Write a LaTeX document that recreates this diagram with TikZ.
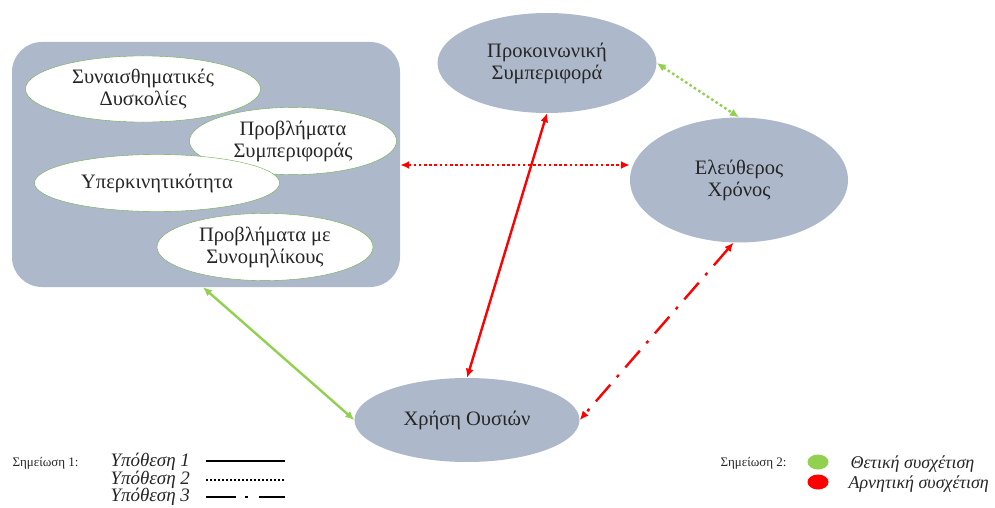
\documentclass[tikz,border=0pt]{standalone}
\usepackage{fontspec}
\setmainfont{Liberation Serif}
\usetikzlibrary{positioning, arrows.meta, shapes.geometric}
\definecolor{boxgray}{HTML}{ADB9CA}
\definecolor{posgreen}{HTML}{92D050}
\definecolor{leafgreen}{HTML}{70AD47}
\definecolor{negred}{HTML}{FF0000}
\tikzset{
  every node/.style={font=\fontsize{20.5}{22}\selectfont, text=black!85}, % default text
  factor/.style={ellipse, fill=boxgray, align=center}, % the big grey ellipses
  symptom/.style={ellipse, draw=leafgreen, fill=white, thin, align=center}, % small ellipses inside the box
  link/.style={<->, >={Latex[length=9pt,width=8pt]}, line width=2.4pt}, % every relation is two-way
  positive/.style={link, draw=posgreen, color=posgreen},
  negative/.style={link, draw=negred, color=negred},
  hyp one/.style={},                                   % solid
  hyp two/.style={dash pattern=on 2.6pt off 2.6pt},    % dotted
  hyp three/.style={dash pattern=on 22pt off 10pt on 3pt off 10pt}, % dash-dot
  legend/.style={font=\fontsize{19}{21}\itshape, anchor=west},
}

\begin{document}
\begin{tikzpicture}[x=1pt, y=-1pt]
  \useasboundingbox (0,0) rectangle (995,508);

  % the grouped problems
  \node[fill=boxgray, rounded corners=30pt, minimum width=388pt, minimum height=245pt] (PROBLEMS) at (206,164.5) {};
  \node[symptom, minimum width=235pt, minimum height=58pt] (EMOTIONAL) at (143,89) {Συναισθηματικές\\Δυσκολίες};
  \node[symptom, minimum width=207pt, minimum height=58pt] (CONDUCT) at (293,141) {Προβλήματα\\Συμπεριφοράς};
  \node[symptom, minimum width=245pt, minimum height=57pt] (HYPER) at (157,183) {Υπερκινητικότητα};
  \node[symptom, minimum width=216pt, minimum height=53pt] (PEERS) at (265,247) {Προβλήματα με\\Συνομηλίκους};

  % the other factors
  \node[factor, minimum width=219pt, minimum height=100pt] (PROSOCIAL) at (547,63) {Προκοινωνική\\Συμπεριφορά};
  \node[factor, minimum width=218pt, minimum height=125pt] (LEISURE) at (739,180) {Ελεύθερος\\Χρόνος};
  \node[factor, minimum width=225pt, minimum height=84pt] (SUBSTANCE) at (467,420) {Χρήση Ουσιών};

  % relations
  \draw[positive, hyp two] (PROSOCIAL.east) -- (LEISURE.north);
  \draw[negative, hyp two] (PROBLEMS.east |- 0,165) -- (LEISURE.west |- 0,165);
  \draw[negative, hyp one] (PROSOCIAL.south) -- (SUBSTANCE.north);
  \draw[positive, hyp one] (PROBLEMS.south -| 203,0) -- (SUBSTANCE.west);
  \draw[negative, hyp three] (LEISURE.-95) -- (SUBSTANCE.east);

  % note 1
  \node[font=\fontsize{13}{15}\selectfont, anchor=west] (NOTE1) at (9,463) {Σημείωση 1:};
  \node[legend] (H1) at (107,462) {Υπόθεση 1};
  \node[legend] (H2) at (107,480) {Υπόθεση 2};
  \node[legend] (H3) at (107,497) {Υπόθεση 3};
  \coordinate (H1a) at (206,461); \coordinate (H1b) at (285,461);
  \coordinate (H2a) at (206,480); \coordinate (H2b) at (285,480);
  \coordinate (H3a) at (206,497); \coordinate (H3b) at (285,497);
  \draw[line width=2pt, hyp one] (H1a) -- (H1b);
  \draw[line width=2pt, dash pattern=on 2pt off 2pt] (H2a) -- (H2b);
  \draw[line width=2pt, dash pattern=on 30pt off 9pt on 3pt off 11pt] (H3a) -- (H3b);

  % note 2
  \node[font=\fontsize{13}{15}\selectfont, anchor=west] (NOTE2) at (717,463) {Σημείωση 2:};
  \node[ellipse, fill=posgreen, minimum width=21pt, minimum height=15pt, inner sep=0pt] (POSDOT) at (818,462) {};
  \node[ellipse, fill=negred, minimum width=21pt, minimum height=15pt, inner sep=0pt] (NEGDOT) at (818,482) {};
  \node[legend, font=\fontsize{18}{20}\itshape] (POS) at (847,464) {Θετική συσχέτιση};
  \node[legend, font=\fontsize{18}{20}\itshape] (NEG) at (845,484) {Αρνητική συσχέτιση};
\end{tikzpicture}
\end{document}
